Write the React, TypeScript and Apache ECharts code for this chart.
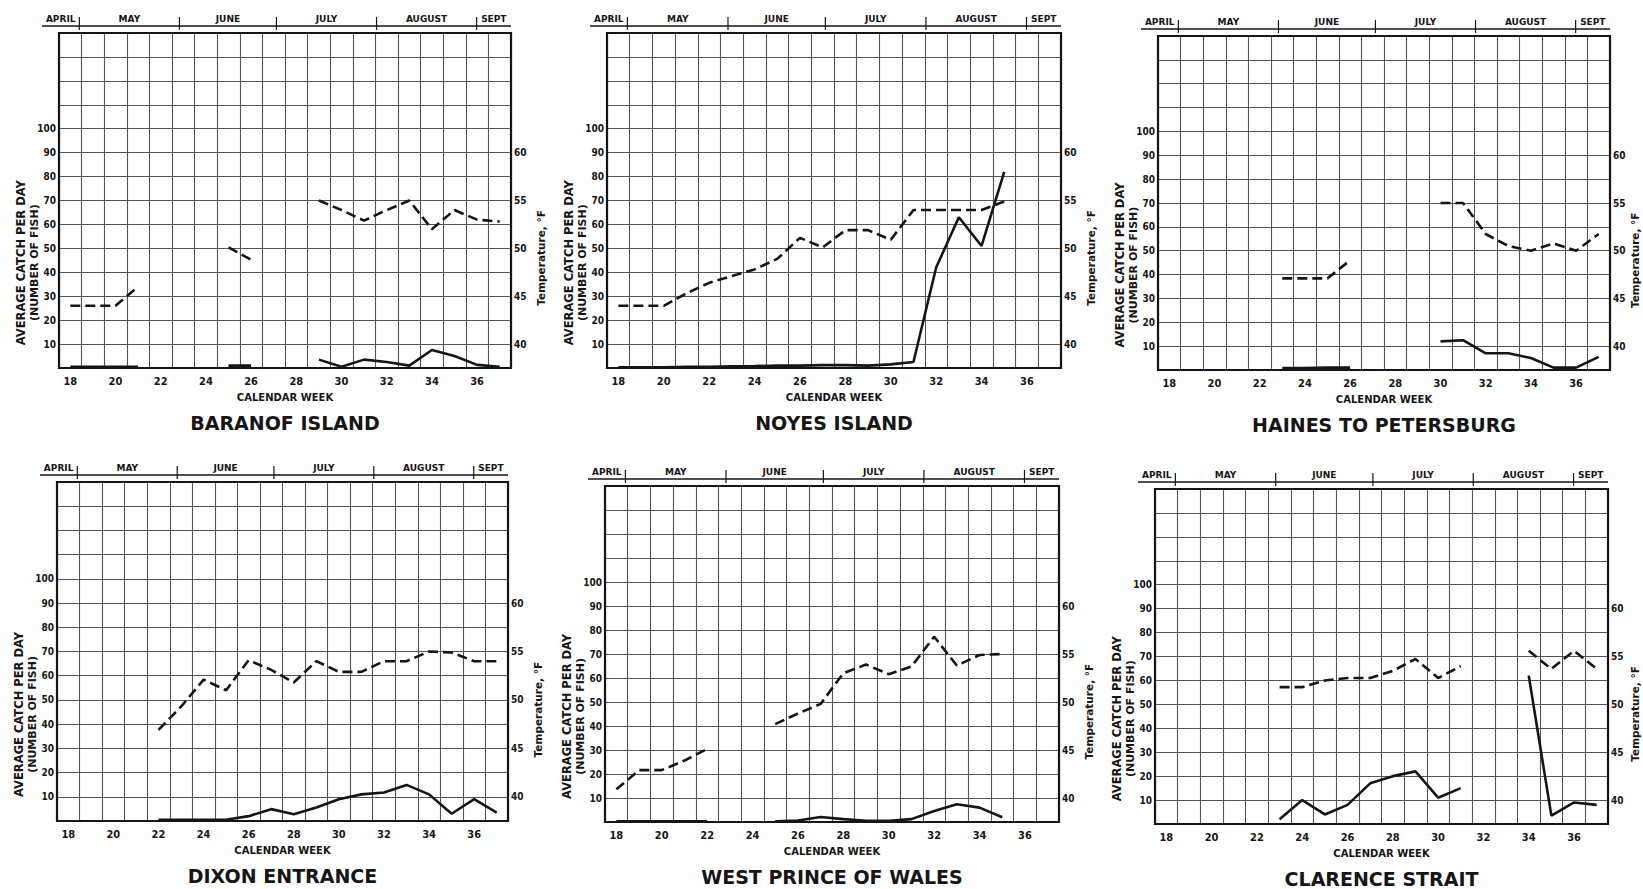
import React, { useEffect, useRef } from "react";
import * as echarts from "echarts";

// Calendar weeks shown on every panel (one grid column per week)
const WEEKS = [18, 19, 20, 21, 22, 23, 24, 25, 26, 27, 28, 29, 30, 31, 32, 33, 34, 35, 36, 37];
const MONTHS = ["APRIL", "MAY", "JUNE", "JULY", "AUGUST", "SEPT"];
// month changes, in calendar weeks
const MONTH_BOUNDS = [18.4, 22.83, 27.12, 31.55, 35.98];
const CATCH_LABELS = [10, 20, 30, 40, 50, 60, 70, 80, 90, 100];
const TEMP_LABELS = [40, 45, 50, 55, 60];
const X_TITLE = "CALENDAR WEEK";
const LEFT_TITLE = ["AVERAGE CATCH PER DAY", "(NUMBER OF FISH)"];
const RIGHT_TITLE = "Temperature, °F";

// Temperature (°F, dashed) and average catch per day (fish, solid), weeks 18..37
const baranofTemp = [44, 44, 44, 46, null, null, null, 50.1, 48.8, null, null, 55, 54, 52.9, 54, 55, 52, 54, 53, 52.8];
const baranofCatch = [0.5, 0.5, 0.5, 0.5, null, null, null, 1, 1, null, null, 3.5, 0.5, 3.5, 2.5, 1, 7.5, 5, 1.3, 0.5];

const noyesTemp = [44, 44, 44, 45.3, 46.4, 47.1, 47.8, 48.9, 51.1, 50.1, 51.9, 51.9, 50.9, 54, 54, 54, 54, 54.9, null, null];
const noyesCatch = [0.3, 0.3, 0.3, 0.5, 0.5, 0.7, 0.8, 1, 1, 1.2, 1.2, 1, 1.5, 2.5, 42, 63, 51, 82, null, null];

const hainesTemp = [null, null, null, null, null, 47.1, 47.1, 47.1, 49, null, null, null, 55, 55, 51.75, 50.5, 50, 50.75, 50, 51.75];
const hainesCatch = [null, null, null, null, null, 0.8, 0.8, 1, 1, null, null, null, 12, 12.5, 7, 7, 5, 1, 1, 5.5];

const dixonTemp = [null, null, null, null, 46.9, 49.3, 52.1, 51, 54.1, 53.1, 51.8, 54, 52.9, 52.9, 54, 54, 55, 54.9, 54, 54];
const dixonCatch = [null, null, null, null, 0.5, 0.5, 0.5, 0.5, 2, 4.9, 2.8, 5.6, 9, 11, 11.8, 14.9, 11, 3, 9, 3.5];

const westPrinceTemp = [40.9, 42.9, 42.9, 43.9, 45.1, null, null, 47.7, 48.8, 49.8, 53, 53.9, 52.9, 53.7, 56.8, 53.8, 54.9, 55, null, null];
const westPrinceCatch = [0.3, 0.3, 0.3, 0.3, 0.3, null, null, 0.3, 0.6, 2.1, 1.2, 0.5, 0.5, 1.2, 4.6, 7.4, 6, 2, null, null];

const clarenceTemp = [null, null, null, null, null, 51.8, 51.8, 52.5, 52.75, 52.75, 53.5, 54.75, 52.75, 54, null, null, 55.6, 53.7, 55.6, 53.7];
const clarenceCatch = [null, null, null, null, null, 2, 10, 4, 8, 17, 20, 22, 11, 15, null, null, 62, 3.5, 9, 8];

const TITLES = [
  "BARANOF ISLAND",
  "NOYES ISLAND",
  "HAINES TO PETERSBURG",
  "DIXON ENTRANCE",
  "WEST PRINCE OF WALES",
  "CLARENCE STRAIT",
];
const TEMPS = [baranofTemp, noyesTemp, hainesTemp, dixonTemp, westPrinceTemp, clarenceTemp];
const CATCHES = [baranofCatch, noyesCatch, hainesCatch, dixonCatch, westPrinceCatch, clarenceCatch];

// plot frames [left, top, right, bottom] in px
const FRAMES = [
  [59, 33, 511, 368],
  [607, 33, 1061, 368],
  [1158, 36, 1610, 370],
  [57, 482, 508, 821],
  [605, 486, 1059, 822],
  [1155, 489, 1608, 824],
];

const PAGE_W = 1643;
const PAGE_H = 889;
const CATCH_MAX = 140;
const TEMP_MIN = 37.5;
const TEMP_MAX = 72.5;

const INK = "#151515";
const GRID_INK = "#555555";
const FONT = '"DejaVu Sans", "Liberation Sans", sans-serif';
const NARROW = '"DejaVu Sans Condensed", "Liberation Sans Narrow", "DejaVu Sans", sans-serif';

function textEl(x: number, y: number, text: string, size: number, opts: any = {}) {
  return {
    type: "text",
    x,
    y,
    rotation: opts.rotation || 0,
    z: 50,
    style: {
      text,
      fontSize: size,
      fontWeight: opts.weight || "bold",
      fontFamily: opts.family || FONT,
      fill: INK,
      align: opts.align || "center",
      verticalAlign: "middle",
      textAlign: opts.align || "center",
      textVerticalAlign: "middle",
    },
  };
}

function lineEl(x1: number, y1: number, x2: number, y2: number, width: number) {
  return {
    type: "line",
    z: 50,
    shape: { x1, y1, x2, y2 },
    style: { stroke: INK, lineWidth: width },
  };
}

function buildOption() {
  const grids: any[] = [];
  const xAxes: any[] = [];
  const yAxes: any[] = [];
  const series: any[] = [];
  const graphics: any[] = [];

  FRAMES.forEach(([l, t, r, b], i) => {
    const w = r - l;
    const h = b - t;
    const xOf = (wk: number) => l + ((wk - (WEEKS[0] - 0.5)) / WEEKS.length) * w;
    const yOf = (c: number) => b - (c / CATCH_MAX) * h;
    const cx = (l + r) / 2;

    grids.push({ left: l, top: t, width: w, height: h, containLabel: false });

    xAxes.push({
      type: "category",
      gridIndex: i,
      data: WEEKS.map(String),
      boundaryGap: true,
      axisLine: { show: false },
      axisTick: { show: false, interval: 0 },
      splitLine: { show: true, interval: 0, lineStyle: { color: GRID_INK, width: 1.1 } },
      axisLabel: {
        interval: 1,
        margin: 8,
        fontSize: 11,
        fontWeight: "bold",
        fontFamily: NARROW,
        color: INK,
      },
    });

    yAxes.push({
      type: "value",
      gridIndex: i,
      position: "left",
      min: 0,
      max: CATCH_MAX,
      interval: 10,
      axisLine: { show: false },
      axisTick: { show: false },
      splitLine: { show: true, lineStyle: { color: GRID_INK, width: 1.1 } },
      axisLabel: {
        margin: 3,
        fontSize: 10,
        fontWeight: "bold",
        fontFamily: NARROW,
        color: INK,
        formatter: (v: number) => (CATCH_LABELS.indexOf(v) >= 0 ? String(v) : ""),
      },
    });
    yAxes.push({
      type: "value",
      gridIndex: i,
      position: "right",
      min: TEMP_MIN,
      max: TEMP_MAX,
      interval: 2.5,
      axisLine: { show: false },
      axisTick: { show: false },
      splitLine: { show: false },
      axisLabel: {
        margin: 3,
        fontSize: 10,
        fontWeight: "bold",
        fontFamily: NARROW,
        color: INK,
        formatter: (v: number) => (TEMP_LABELS.indexOf(v) >= 0 ? String(v) : ""),
      },
    });

    series.push({
      name: "Temperature",
      type: "line",
      xAxisIndex: i,
      yAxisIndex: 2 * i + 1,
      data: TEMPS[i],
      symbol: "none",
      connectNulls: false,
      z: 10,
      lineStyle: { color: INK, width: 2.6, type: [10, 5] },
    });
    series.push({
      name: "Catch",
      type: "line",
      xAxisIndex: i,
      yAxisIndex: 2 * i,
      data: CATCHES[i],
      symbol: "none",
      connectNulls: false,
      z: 11,
      lineStyle: { color: INK, width: 2.6 },
    });

    // frame
    graphics.push({
      type: "rect",
      z: 60,
      shape: { x: l, y: t, width: w, height: h },
      style: { fill: "none", stroke: INK, lineWidth: 2.2 },
    });

    // month ruler above the frame
    const rulerY = t - 7;
    const start = l - 17;
    graphics.push(lineEl(start, rulerY, r, rulerY, 1.6));
    const edges = [start, ...MONTH_BOUNDS.map(xOf), r];
    MONTH_BOUNDS.forEach((m) => graphics.push(lineEl(xOf(m), t - 16, xOf(m), t - 3, 1.2)));
    MONTHS.forEach((name, k) =>
      graphics.push(textEl((edges[k] + edges[k + 1]) / 2, t - 14, name, 9))
    );

    // axis titles
    graphics.push(textEl(l - 38, yOf(44), LEFT_TITLE[0], 11.5, { rotation: Math.PI / 2 }));
    graphics.push(textEl(l - 25, yOf(44), LEFT_TITLE[1], 11, { rotation: Math.PI / 2 }));
    graphics.push(
      textEl(Math.min(r + 30, PAGE_W - 8), yOf(46), RIGHT_TITLE, 10.5, { rotation: Math.PI / 2 })
    );
    graphics.push(textEl(cx, b + 29, X_TITLE, 10));
    graphics.push(textEl(cx, b + 55, TITLES[i], 19));
  });

  return {
    animation: false,
    backgroundColor: "#ffffff",
    grid: grids,
    xAxis: xAxes,
    yAxis: yAxes,
    series,
    graphic: { elements: graphics },
  };
}

export default function App() {
  const ref = useRef<HTMLDivElement>(null);

  useEffect(() => {
    if (!ref.current) return;
    const chart = echarts.init(ref.current, undefined, { renderer: "svg" });
    chart.setOption(buildOption());
    return () => chart.dispose();
  }, []);

  return (
    <div
      ref={ref}
      style={{ position: "fixed", left: 0, top: 0, width: PAGE_W, height: PAGE_H, background: "#fff" }}
    />
  );
}
